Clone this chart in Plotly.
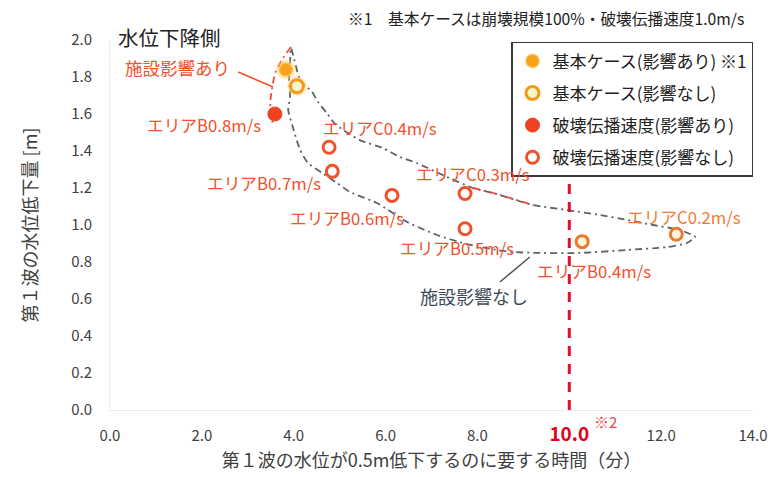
import plotly.graph_objects as go

# --- data -------------------------------------------------------------
# Basic case (collapse scale 100%, rupture speed 1.0 m/s)
base_with_time, base_with_drop = [3.83], [1.84]      # with facility effect
base_without_time, base_without_drop = [4.07], [1.75]  # without facility effect

# Rupture propagation speed cases, with facility effect
speed_with_names = ["エリアB0.8m/s"]
speed_with_time = [3.59]
speed_with_drop = [1.60]

# Rupture propagation speed cases, without facility effect
speed_without_names = ["エリアC0.4m/s", "エリアB0.7m/s", "エリアB0.6m/s",
                       "エリアC0.3m/s", "エリアB0.5m/s"]
speed_without_time = [4.77, 4.84, 6.14, 7.73, 7.73]
speed_without_drop = [1.42, 1.29, 1.16, 1.17, 0.98]

# Slow cases beyond the 10-minute line
slow_names = ["エリアB0.4m/s", "エリアC0.2m/s"]
slow_time = [10.28, 12.33]
slow_drop = [0.91, 0.95]

# Envelope enclosing the cases without facility effect
env_without_time = [3.94, 4.14, 4.40, 4.53, 4.72, 4.90, 5.44, 5.94, 6.31, 6.68,
                    7.29, 7.90, 8.34, 9.21, 9.95, 10.67, 11.26, 11.82, 12.41, 12.74,
                    12.56, 12.13, 11.26, 10.23, 9.36, 8.77, 8.43, 7.77, 7.12, 6.47,
                    5.81, 5.23, 4.94, 4.62, 4.31, 4.14, 3.98, 3.88, 3.92, 3.90,
                    3.92, 3.94]
env_without_drop = [1.957, 1.784, 1.719, 1.665, 1.605, 1.546, 1.459, 1.416, 1.368, 1.335,
                    1.265, 1.200, 1.173, 1.108, 1.081, 1.054, 1.027, 1.000, 0.973, 0.935,
                    0.903, 0.881, 0.865, 0.849, 0.849, 0.854, 0.865, 0.897, 0.946, 1.016,
                    1.119, 1.178, 1.227, 1.281, 1.335, 1.405, 1.530, 1.622, 1.692, 1.784,
                    1.881, 1.957]

# Envelope of the cases with facility effect
env_with_time = [3.94, 3.77, 3.60, 3.53, 3.49, 3.51, 3.55]
env_with_drop = [1.962, 1.903, 1.822, 1.741, 1.659, 1.595, 1.541]
env_with_tail_time = [7.90, 8.34, 9.21]
env_with_tail_drop = [1.200, 1.173, 1.108]

threshold_min = 10.0
threshold_top = 1.29

x_ticks = [0, 2, 4, 6, 8, 10, 12, 14]
x_tick_text = ["0.0", "2.0", "4.0", "6.0", "8.0",
               "<b><span style='color:#e3001b;font-size:19px'>10.0</span></b>",
               "12.0", "14.0"]

# label positions (time, drop) for each case name
label_pos = {
    "エリアB0.8m/s": (2.05, 1.541),
    "エリアC0.4m/s": (5.88, 1.524),
    "エリアB0.7m/s": (3.35, 1.227),
    "エリアB0.6m/s": (5.16, 1.038),
    "エリアC0.3m/s": (7.90, 1.276),
    "エリアB0.5m/s": (7.55, 0.876),
    "エリアC0.2m/s": (12.50, 1.043),
    "エリアB0.4m/s": (10.54, 0.751),
}

FONT = "Noto Sans CJK JP"
RED_ORANGE = "#f1502a"
ORANGE = "#ea7a2c"
GRAY_LINE = "#59636e"

fig = go.Figure()

# envelopes
fig.add_trace(go.Scatter(x=env_without_time, y=env_without_drop, mode="lines",
                         line=dict(color=GRAY_LINE, width=1.8, dash="7px,4px,2px,4px",
                                   shape="spline", smoothing=0.6),
                         showlegend=False, hoverinfo="skip"))
fig.add_trace(go.Scatter(x=env_with_time, y=env_with_drop, mode="lines",
                         line=dict(color="#ee4a3a", width=1.8, dash="7px,4px,2px,4px",
                                   shape="spline", smoothing=0.8),
                         showlegend=False, hoverinfo="skip"))
fig.add_trace(go.Scatter(x=env_with_tail_time, y=env_with_tail_drop, mode="lines",
                         line=dict(color="#ee4a3a", width=1.8, dash="7px,4px,2px,4px",
                                   shape="spline"),
                         showlegend=False, hoverinfo="skip"))

# 10-minute threshold
fig.add_trace(go.Scatter(x=[threshold_min, threshold_min], y=[0, threshold_top], mode="lines",
                         line=dict(color="#e0102e", width=3, dash="10px,8px"),
                         showlegend=False, hoverinfo="skip"))

# leader lines
fig.add_trace(go.Scatter(x=[2.79, 3.55], y=[1.827, 1.746], mode="lines",
                         line=dict(color=RED_ORANGE, width=1.5),
                         showlegend=False, hoverinfo="skip"))
fig.add_trace(go.Scatter(x=[8.49, 9.14], y=[0.692, 0.827], mode="lines",
                         line=dict(color="#4a5560", width=1.5),
                         showlegend=False, hoverinfo="skip"))

# soft glow behind the basic-case markers
fig.add_trace(go.Scatter(x=base_with_time + base_without_time,
                         y=base_with_drop + base_without_drop, mode="markers",
                         marker=dict(size=20, color="rgba(253,214,120,0.45)", line=dict(width=0)),
                         showlegend=False, hoverinfo="skip"))

fig.add_trace(go.Scatter(x=base_with_time, y=base_with_drop, mode="markers",
                         name="基本ケース(影響あり) ※1", legendgroup="a",
                         marker=dict(size=13, color="#f7a11c", line=dict(color="#f9c04a", width=1.5))))
fig.add_trace(go.Scatter(x=base_without_time, y=base_without_drop, mode="markers",
                         name="基本ケース(影響なし)", legendgroup="b",
                         marker=dict(size=13, color="#fff4c8", line=dict(color="#f29a1c", width=3))))
fig.add_trace(go.Scatter(x=speed_with_time, y=speed_with_drop, mode="markers",
                         name="破壊伝播速度(影響あり)", legendgroup="c",
                         marker=dict(size=14, color="#ee4220", line=dict(color="#ee4220", width=1))))
fig.add_trace(go.Scatter(x=speed_without_time, y=speed_without_drop, mode="markers",
                         name="破壊伝播速度(影響なし)", legendgroup="d",
                         marker=dict(size=12, color="white", line=dict(color=RED_ORANGE, width=3))))
fig.add_trace(go.Scatter(x=slow_time, y=slow_drop, mode="markers", legendgroup="d",
                         showlegend=False,
                         marker=dict(size=12, color="#fff3e0", line=dict(color=ORANGE, width=3))))

annotations = []
for name in speed_with_names + speed_without_names + slow_names:
    lx, ly = label_pos[name]
    color = "#ef7a34" if name == "エリアC0.2m/s" else RED_ORANGE
    annotations.append(dict(x=lx, y=ly, text=name, showarrow=False,
                            font=dict(family=FONT, size=16.7, color=color)))

annotations += [
    dict(x=1.46, y=1.849, text="施設影響あり", showarrow=False,
         font=dict(family=FONT, size=17.5, color=RED_ORANGE)),
    dict(x=7.93, y=0.616, text="施設影響なし", showarrow=False,
         font=dict(family=FONT, size=18, color="#3d4a57")),
    dict(x=0.092, y=1.008, xref="paper", yref="paper", xanchor="center", yanchor="middle",
         text="水位下降側", showarrow=False,
         font=dict(family=FONT, size=20.5, color="#222222")),
    dict(x=0.678, y=1.059, xref="paper", yref="paper", xanchor="center", yanchor="middle",
         text="※1　基本ケースは崩壊規模100%・破壊伝播速度1.0m/s", showarrow=False,
         font=dict(family=FONT, size=15.7, color="#222222")),
    dict(x=0.770, y=-0.030, xref="paper", yref="paper", xanchor="center", yanchor="middle",
         text="※2", showarrow=False,
         font=dict(family=FONT, size=15, color="#e5484a")),
]

fig.update_layout(
    width=779, height=477, autosize=False,
    margin=dict(l=110, r=26, t=40, b=67),
    paper_bgcolor="white", plot_bgcolor="white",
    font=dict(family=FONT, color="#404040"),
    annotations=annotations,
    legend=dict(x=1.0, y=0.995, xanchor="right", yanchor="top",
                bgcolor="white", bordercolor="#3a3a3a", borderwidth=1.5,
                font=dict(family=FONT, size=17, color="#222222"),
                traceorder="grouped", tracegroupgap=7, itemwidth=30),
    xaxis=dict(range=[0, 14], tickvals=x_ticks, ticktext=x_tick_text,
               showgrid=False, zeroline=False, showline=True, linecolor="#ececec",
               ticks="", ticklabelstandoff=12,
               tickfont=dict(family=FONT, size=15, color="#404040"),
               title=dict(text="第１波の水位が0.5m低下するのに要する時間（分）",
                          font=dict(family=FONT, size=18, color="#404040"), standoff=6)),
    yaxis=dict(range=[0, 2.0], dtick=0.2, tickformat=".1f",
               showgrid=False, zeroline=False, showline=True, linecolor="#ececec",
               ticks="", ticklabelstandoff=14,
               tickfont=dict(family=FONT, size=15, color="#404040"),
               title=dict(text="第１波の水位低下量 [m]",
                          font=dict(family=FONT, size=18, color="#404040"), standoff=28)),
)

fig.write_html("out.html")
